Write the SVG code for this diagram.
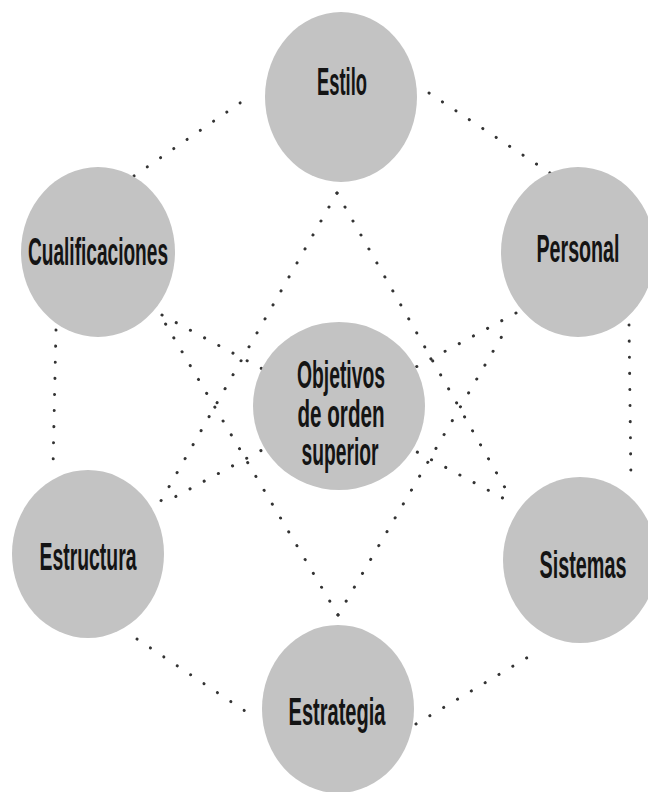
<svg xmlns="http://www.w3.org/2000/svg" width="648" height="792" viewBox="0 0 648 792">
<style>
.bg{fill:#ffffff}
.conn line{stroke:#333333;stroke-width:3;stroke-linecap:round;stroke-dasharray:0.1 16;fill:none}
.node ellipse{fill:#c3c3c3}
.node text{font-family:"Liberation Sans Narrow","Liberation Sans",Arial,sans-serif;font-weight:bold;font-size:38px;fill:#141414;text-anchor:middle}
</style>
<rect class="bg" x="0" y="0" width="648" height="792"/>
<g id="connectors" class="conn">
<line x1="134" y1="176" x2="253" y2="94"/>
<line x1="429" y1="93" x2="550" y2="173"/>
<line x1="629" y1="325" x2="631" y2="485"/>
<line x1="56" y1="330" x2="53" y2="468"/>
<line x1="137" y1="639" x2="257" y2="719"/>
<line x1="416" y1="724" x2="540" y2="650"/>
<line x1="162" y1="315" x2="512" y2="503"/>
<line x1="516" y1="313" x2="173" y2="498"/>
<line x1="337" y1="193" x2="158" y2="506"/>
<line x1="337" y1="193" x2="508" y2="493"/>
<line x1="338" y1="615" x2="165" y2="323"/>
<line x1="338" y1="615" x2="505" y2="331"/>
</g>
<g id="node-estilo" class="node">
<ellipse cx="341" cy="97" rx="76" ry="85"/>
<text transform="translate(342,95) scale(0.5,1)" textLength="100" lengthAdjust="spacingAndGlyphs">Estilo</text>
</g>
<g id="node-cualificaciones" class="node">
<ellipse cx="98" cy="252" rx="77" ry="85"/>
<text transform="translate(98,265) scale(0.5,1)" textLength="280" lengthAdjust="spacingAndGlyphs">Cualificaciones</text>
</g>
<g id="node-personal" class="node">
<ellipse cx="578" cy="252" rx="77" ry="85"/>
<text transform="translate(578,262) scale(0.5,1)" textLength="166" lengthAdjust="spacingAndGlyphs">Personal</text>
</g>
<g id="node-objetivos" class="node">
<ellipse cx="339" cy="406" rx="86" ry="84"/>
<text transform="translate(341,388) scale(0.5,1)" textLength="176" lengthAdjust="spacingAndGlyphs">Objetivos</text>
<text transform="translate(341,427) scale(0.5,1)" textLength="174" lengthAdjust="spacingAndGlyphs">de orden</text>
<text transform="translate(340,465) scale(0.5,1)" textLength="154" lengthAdjust="spacingAndGlyphs">superior</text>
</g>
<g id="node-estructura" class="node">
<ellipse cx="88" cy="554" rx="76" ry="84"/>
<text transform="translate(88,570) scale(0.5,1)" textLength="194" lengthAdjust="spacingAndGlyphs">Estructura</text>
</g>
<g id="node-sistemas" class="node">
<ellipse cx="580" cy="560" rx="77" ry="83"/>
<text transform="translate(583,578) scale(0.5,1)" textLength="174" lengthAdjust="spacingAndGlyphs">Sistemas</text>
</g>
<g id="node-estrategia" class="node">
<ellipse cx="338" cy="709" rx="76" ry="84"/>
<text transform="translate(337,725) scale(0.5,1)" textLength="194" lengthAdjust="spacingAndGlyphs">Estrategia</text>
</g>
</svg>
